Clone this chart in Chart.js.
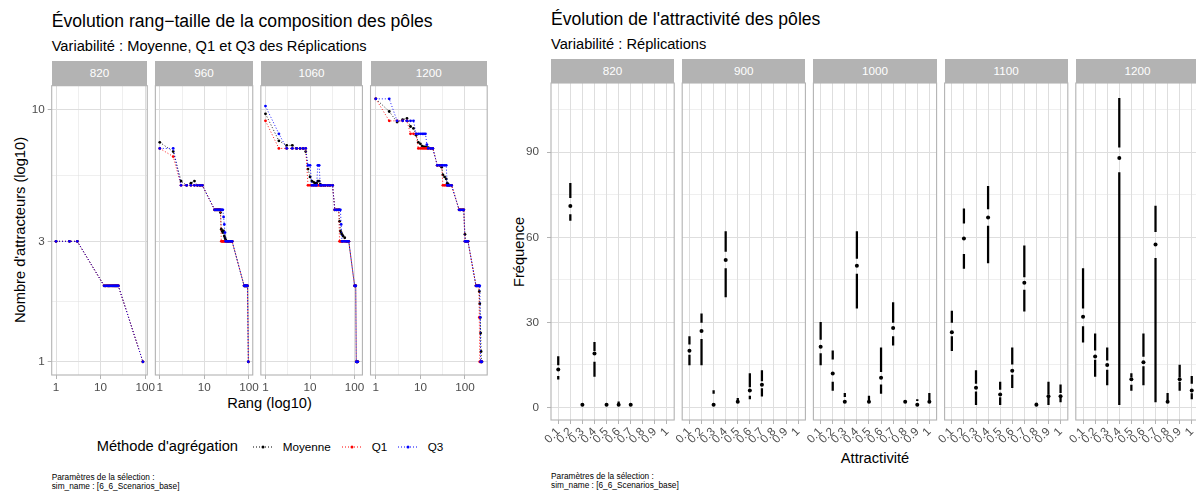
<!DOCTYPE html>
<html lang="fr">
<head>
<meta charset="utf-8">
<title>Pôles : rang-taille et attractivité</title>
<script src="https://cdn.jsdelivr.net/npm/chart.js@4.4.1/dist/chart.umd.min.js"></script>
<style>
  html, body { margin: 0; padding: 0; }
  body { width: 1196px; height: 493px; position: relative; overflow: hidden; background: #fff;
         font-family: "Liberation Sans", Arial, sans-serif; color: #000; }
  .txt { position: absolute; white-space: nowrap; line-height: 1; }
  .ctr { position: absolute; white-space: nowrap; line-height: 1; transform: translate(-50%, -50%); }
  .rot { position: absolute; white-space: nowrap; line-height: 1; transform: translate(-50%, -50%) rotate(-90deg); }
  .strip { position: absolute; background: #B3B3B3; color: #fff; font-size: 11.7px; text-align: center; }
  .cap { position: absolute; white-space: nowrap; font-size: 8.3px; line-height: 9px; }
  canvas { position: absolute; }
</style>
</head>
<body>

<!-- Titres -->
<div class="txt" style="left:51.7px;top:13.4px;font-size:17.6px">Évolution rang−taille de la composition des pôles</div>
<div class="txt" style="left:51.7px;top:38.6px;font-size:14.67px">Variabilité : Moyenne, Q1 et Q3 des Réplications</div>
<div class="txt" style="left:551px;top:11.4px;font-size:17.6px">Évolution de l'attractivité des pôles</div>
<div class="txt" style="left:551px;top:36.6px;font-size:14.67px">Variabilité : Réplications</div>

<!-- Titres d'axes -->
<div class="rot" style="left:19.5px;top:230.4px;font-size:14.67px">Nombre d'attracteurs (log10)</div>
<div class="ctr" style="left:269.5px;top:403px;font-size:14.67px">Rang (log10)</div>
<div class="rot" style="left:519px;top:251.5px;font-size:14.67px">Fréquence</div>
<div class="ctr" style="left:875px;top:458.3px;font-size:14.67px">Attractivité</div>

<!-- Légende -->
<div class="txt" style="left:96.7px;top:438.7px;font-size:14.67px">Méthode d'agrégation</div>
<svg style="position:absolute;left:253px;top:441.7px" width="20" height="10"><line x1="0" y1="5" x2="20" y2="5" stroke="#000" stroke-width="1" stroke-dasharray="1,2"/><circle cx="10" cy="5" r="1.5" fill="#000"/></svg>
<div class="txt" style="left:282.7px;top:440.9px;font-size:11.7px">Moyenne</div>
<svg style="position:absolute;left:342px;top:441.7px" width="20" height="10"><line x1="0" y1="5" x2="20" y2="5" stroke="#FF0000" stroke-width="1" stroke-dasharray="1,2"/><circle cx="10" cy="5" r="1.5" fill="#FF0000"/></svg>
<div class="txt" style="left:371.7px;top:440.9px;font-size:11.7px">Q1</div>
<svg style="position:absolute;left:398px;top:441.7px" width="20" height="10"><line x1="0" y1="5" x2="20" y2="5" stroke="#0000FF" stroke-width="1" stroke-dasharray="1,2"/><circle cx="10" cy="5" r="1.5" fill="#0000FF"/></svg>
<div class="txt" style="left:427.7px;top:440.9px;font-size:11.7px">Q3</div>

<!-- Légendes de bas de figure -->
<div class="cap" style="left:51.7px;top:472.5px">Paramètres de la sélection :<br>sim_name : [6_6_Scenarios_base]</div>
<div class="cap" style="left:551px;top:472px">Paramètres de la sélection :<br>sim_name : [6_6_Scenarios_base]</div>

<script>
// ==========================================
// DONNÉES - RANG-TAILLE (moyenne, Q1, Q3 des réplications)
// ==========================================
var rang820 = [1, 2, 3, 12, 13, 14, 15, 16, 17, 18, 19, 20, 21, 22, 23, 24, 25, 89];
var moy820  = [3, 3, 3, 2, 2, 2, 2, 2, 2, 2, 2, 2, 2, 2, 2, 2, 2, 1];
var q1_820  = [3, 3, 3, 2, 2, 2, 2, 2, 2, 2, 2, 2, 2, 2, 2, 2, 2, 1];
var q3_820  = [3, 3, 3, 2, 2, 2, 2, 2, 2, 2, 2, 2, 2, 2, 2, 2, 2, 1];

var rang960 = [1, 2, 3, 4, 5, 6, 7, 8, 9, 17, 18, 19, 20, 21, 22, 23, 24, 25, 26, 27, 28, 29, 30, 32, 34, 36, 39, 42, 78, 80, 82, 84, 86, 88, 90, 93, 97];
var moy960  = [7.4, 6.8, 5.2, 5.0, 5.1, 5.2, 5, 5, 5, 4, 4, 4, 4, 4, 4, 3.9, 3.35, 3.3, 3.25, 3.3, 3.15, 3.1, 3.05, 3, 3, 3, 3, 3, 2, 2, 2, 2, 2, 2, 2, 2, 1];
var q1_960  = [7, 6.5, 5, 5, 5, 5, 5, 5, 5, 4, 4, 4, 4, 4, 4, 4, 3, 3, 3, 3, 3, 3, 3, 3, 3, 3, 3, 3, 2, 2, 2, 2, 2, 2, 2, 2, 1];
var q3_960  = [7, 7, 5, 5, 5, 5, 5, 5, 5, 4, 4, 4, 4, 4, 4, 4, 4, 4, 4, 3.75, 3.5, 3.25, 3, 3, 3, 3, 3, 3, 2, 2, 2, 2, 2, 2, 2, 2, 1];

var rang1060 = [1, 2, 3, 4, 5, 6, 7, 8, 9, 10, 11, 12, 13, 14, 15, 16, 17, 18, 20, 22, 25, 28, 32, 36, 40, 44, 46, 48, 50, 52, 55, 60, 65, 70, 74, 100, 103, 106, 109, 112, 115, 118];
var moy1060  = [9.6, 7.5, 7.2, 7.2, 7, 7, 7, 6.8, 5.8, 5.4, 5.2, 5.15, 5.1, 5.1, 5.2, 5.2, 5.05, 5, 5, 5, 5, 5, 5, 4, 4, 4, 3.6, 3.3, 3.25, 3.2, 3.15, 3.1, 3, 3, 3, 2, 2, 2, 1, 1, 1, 1];
var q1_1060  = [9, 7, 7, 7, 7, 7, 7, 7, 5, 5, 5, 5, 5, 5, 5, 5, 5, 5, 5, 5, 5, 5, 5, 4, 4, 4, 3, 3, 3, 3, 3, 3, 3, 3, 3, 2, 2, 2, 1, 1, 1, 1];
var q3_1060  = [10.3, 8, 7, 7, 7, 7, 7, 7, 6, 6, 5, 5, 5, 5, 6, 6, 5, 5, 5, 5, 5, 5, 5, 4, 4, 4, 4, 4, 3.5, 3, 3, 3, 3, 3, 3, 2, 2, 2, 1, 1, 1, 1];

var rang1200 = [1, 2, 3, 4, 5, 6, 7, 8, 9, 10, 11, 12, 13, 14, 15, 17, 19, 24, 27, 30, 32, 35, 38, 40, 42, 45, 50, 74, 80, 87, 94, 100, 105, 110, 117, 177, 185, 195, 205, 210, 215, 220, 225, 230, 235, 240];
var moy1200  = [11, 9.8, 8.9, 9.1, 9.2, 8.55, 8.4, 7.9, 7.4, 7.3, 7.15, 7.1, 7.1, 7.05, 7.05, 7, 7, 6, 6, 5.9, 5.5, 5.4, 5.3, 5.1, 5.05, 5, 5, 4, 4, 4, 4, 3.2, 3, 3, 3, 2, 2, 2, 2, 1.9, 1.7, 1.5, 1.3, 1.1, 1, 1];
var q1_1200  = [11, 9, 9, 9, 9, 8, 8, 8, 7, 7, 7, 7, 7, 7, 7, 7, 7, 6, 6, 6, 5, 5, 5, 5, 5, 5, 5, 4, 4, 4, 4, 3, 3, 3, 3, 2, 2, 2, 2, 1.5, 1, 1, 1, 1, 1, 1];
var q3_1200  = [11, 11, 9, 9, 9, 9, 9, 8, 8, 8, 8, 8, 8, 7.25, 7, 7, 7, 6, 6, 6, 6, 6, 6, 5, 5, 5, 5, 4, 4, 4, 4, 3, 3, 3, 3, 2, 2, 2, 2, 2, 2, 1.5, 1, 1, 1, 1];

var rangTicks = [1, 10, 100];
var tailleTicks = [1, 3, 10];

// ==========================================
// DONNÉES - ATTRACTIVITÉ : [min, Q1, médiane, Q3, max], null = classe absente
// ==========================================
var attractivite = ['0.1', '0.2', '0.3', '0.4', '0.5', '0.6', '0.7', '0.8', '0.9', '1'];

var freq820 = [[10, 11, 13.4, 15, 18], [66, 68, 71, 74, 79], [1, 1, 1, 1, 1], [11, 16, 19, 20, 23],
               [1, 1, 1, 1, 1], [1, 1, 1, 1.5, 2], [1, 1, 1, 1, 1], null, null, null];
var freq900 = [[15, 18.5, 20, 22.3, 25], [15, 24, 27, 30, 33], [1, 1, 1, 5, 6], [39, 49, 52, 55, 62],
               [2, 2, 2, 2.5, 3.2], [3, 4, 6, 7.3, 12], [4, 6.7, 8, 9.4, 13], null, null, null];
var freq1000 = [[15, 19, 21.4, 24, 30], [6, 9, 12, 17, 20], [2, 2, 2, 3.8, 5], [35, 47, 50, 52.6, 62],
                [2, 2, 2, 2.8, 4], [5, 8, 10.5, 12.6, 21], [22, 25, 28, 30, 37], [2, 2, 2, 2, 2],
                [1, 1, 1, 2.4, 2.8], [2, 2, 2, 2.8, 5]];
var freq1100 = [[20, 25, 26.5, 30, 34], [49, 54, 59.6, 65, 70], [1, 5.5, 7, 8.5, 13], [51, 64, 67, 70, 78],
                [1, 3.5, 4.6, 6.4, 9], [7, 11.4, 13, 15.3, 21], [34, 41.4, 44, 46, 57], [1, 1, 1, 1.3, 1.6],
                [1, 3.2, 4, 4.7, 9], [2, 3.2, 4, 5.2, 8]];
var freq1200 = [[23, 28.5, 32, 35, 49], [11, 16.7, 18, 20.2, 26], [8, 13.2, 15, 16.7, 21], [1, 82.8, 88, 91.8, 109],
                [6, 7.9, 10, 10.8, 12], [8, 14.4, 16, 18, 26], [2, 52.6, 57.5, 62, 71], [2, 2, 2, 2.6, 5],
                [6, 9, 10, 10.8, 15], [3, 4.9, 6, 8.5, 11]];

var freqTicks = [0, 30, 60, 90];

(function() {
    'use strict';

    Chart.defaults.font.family = '"Liberation Sans", Arial, sans-serif';
    Chart.defaults.color = '#4D4D4D';

    var GRID = '#DEDEDE';
    var FRAME = '#B3B3B3';
    var LABEL = '#4D4D4D';

    // ==========================================
    // MISE EN PAGE DES PANNEAUX
    // ==========================================
    var RT = { left: 51.7, right: 487.2, gap: 8.1, top: 85.7, height: 289.3, stripTop: 61 };
    var AT = { left: 551, width: 123.2, gap: 8.0, top: 83, height: 337, stripTop: 59.3 };

    var facettesRang = [
        { nom: '820', rang: rang820, moy: moy820, q1: q1_820, q3: q3_820 },
        { nom: '960', rang: rang960, moy: moy960, q1: q1_960, q3: q3_960 },
        { nom: '1060', rang: rang1060, moy: moy1060, q1: q1_1060, q3: q3_1060 },
        { nom: '1200', rang: rang1200, moy: moy1200, q1: q1_1200, q3: q3_1200 }
    ];
    var facettesAttr = [
        { nom: '820', stats: freq820 },
        { nom: '900', stats: freq900 },
        { nom: '1000', stats: freq1000 },
        { nom: '1100', stats: freq1100 },
        { nom: '1200', stats: freq1200 }
    ];

    var panelFrame = {
        id: 'panelFrame',
        afterDatasetsDraw: function(chart) {
            var a = chart.chartArea, c = chart.ctx;
            c.save();
            c.strokeStyle = FRAME;
            c.lineWidth = 1.1;
            c.strokeRect(a.left, a.top, a.right - a.left, a.bottom - a.top);
            c.restore();
        }
    };

    function addCanvas(left, top, w, h) {
        var c = document.createElement('canvas');
        c.width = w; c.height = h;
        c.style.left = left + 'px'; c.style.top = top + 'px';
        c.style.width = w + 'px'; c.style.height = h + 'px';
        document.body.appendChild(c);
        return c;
    }

    function addStrip(text, left, top, w, h) {
        var d = document.createElement('div');
        d.className = 'strip';
        d.style.left = left + 'px'; d.style.top = top + 'px';
        d.style.width = w + 'px'; d.style.height = h + 'px';
        d.style.lineHeight = h + 'px';
        d.textContent = text;
        document.body.appendChild(d);
    }

    function buildTicks(lo, hi, majors, minors) {
        var t = [];
        majors.forEach(function(v) { if (v >= lo && v <= hi) t.push({ value: v, isMinor: false }); });
        minors.forEach(function(v) { if (v >= lo && v <= hi) t.push({ value: v, isMinor: true }); });
        t.sort(function(a, b) { return a.value - b.value; });
        return t;
    }

    // mineures ggplot : milieu (en échelle transformée) entre deux majeures
    function logMinors(majors) {
        var m = [];
        for (var i = 0; i < majors.length; i++) {
            var next = i < majors.length - 1 ? majors[i + 1] : majors[i] * 10;
            m.push(Math.sqrt(majors[i] * next));
        }
        return m;
    }

    function gridOpts(drawTicks) {
        return {
            color: GRID,
            lineWidth: function(ctx) { return ctx.tick && ctx.tick.isMinor ? 0.5 : 1; },
            drawTicks: drawTicks,
            tickLength: 4,
            tickWidth: 1,
            tickColor: function(ctx) { return ctx.tick && ctx.tick.isMinor ? 'rgba(0,0,0,0)' : FRAME; }
        };
    }

    // ==========================================
    // GRAPHIQUE RANG-TAILLE
    // ==========================================
    function initRangTaille() {
        var n = facettesRang.length;
        var spans = facettesRang.map(function(f) { return 1.1 * Math.log10(Math.max.apply(null, f.rang)); });
        var total = spans.reduce(function(a, b) { return a + b; }, 0);
        var pxPerUnit = (RT.right - RT.left - RT.gap * (n - 1)) / total;

        var yMaxData = 1;
        facettesRang.forEach(function(f) {
            yMaxData = Math.max(yMaxData, Math.max.apply(null, f.moy), Math.max.apply(null, f.q1), Math.max.apply(null, f.q3));
        });
        var Ly = Math.log10(yMaxData);
        var yLo = Math.pow(10, -0.05 * Ly), yHi = Math.pow(10, 1.05 * Ly);

        var panelL = RT.left;
        facettesRang.forEach(function(f, idx) {
            var panelW = spans[idx] * pxPerUnit;
            drawRangFacet(f, idx === 0, panelL, panelW, yLo, yHi);
            panelL += panelW + RT.gap;
        });
    }

    function series(f, values, color, order) {
        return {
            data: f.rang.map(function(r, k) { return { x: r, y: values[k] }; }),
            borderColor: color,
            backgroundColor: color,
            pointBackgroundColor: color,
            borderWidth: 0.9,
            borderDash: [1, 2],
            pointRadius: 1.4,
            pointBorderWidth: 0,
            tension: 0,
            order: order
        };
    }

    function drawRangFacet(f, first, panelL, panelW, yLo, yHi) {
        addStrip(f.nom, panelL, RT.stripTop, panelW, RT.top - RT.stripTop);

        var cLeft = first ? 20 : Math.floor(panelL - 6);
        var yw = panelL - cLeft;
        var cTop = Math.floor(RT.top - 4);
        var padT = RT.top - cTop;
        var cw = Math.ceil(yw + panelW + 14);
        var ch = Math.ceil(padT + RT.height + 30);
        var xh = ch - padT - RT.height;
        var padR = cw - yw - panelW;

        var L = Math.log10(Math.max.apply(null, f.rang));
        var xLo = Math.pow(10, -0.05 * L), xHi = Math.pow(10, 1.05 * L);

        var canvas = addCanvas(cLeft, cTop, cw, ch);
        new Chart(canvas, {
            type: 'line',
            data: {
                datasets: [
                    series(f, f.q3, '#0000FF', 1),
                    series(f, f.q1, '#FF0000', 2),
                    series(f, f.moy, '#000000', 3)
                ]
            },
            options: {
                responsive: false,
                animation: false,
                devicePixelRatio: 1,
                events: [],
                layout: { padding: { left: 0, top: padT, right: padR, bottom: 0 } },
                plugins: { legend: { display: false }, tooltip: { enabled: false } },
                scales: {
                    x: {
                        type: 'logarithmic', min: xLo, max: xHi, bounds: 'data', offset: false,
                        border: { display: false },
                        grid: gridOpts(true),
                        ticks: {
                            autoSkip: false, maxRotation: 0, minRotation: 0, padding: 2,
                            color: LABEL, font: { size: 11.7 },
                            callback: function(v, i, t) { return t[i].isMinor ? '' : String(v); }
                        },
                        afterBuildTicks: function(s) { s.ticks = buildTicks(xLo, xHi, rangTicks, logMinors(rangTicks)); },
                        afterFit: function(s) { s.height = xh; s.paddingLeft = 0; s.paddingRight = 0; }
                    },
                    y: {
                        type: 'logarithmic', min: yLo, max: yHi, bounds: 'data',
                        border: { display: false },
                        grid: gridOpts(first),
                        ticks: {
                            display: first, autoSkip: false, padding: 3,
                            color: LABEL, font: { size: 11.7 },
                            callback: function(v, i, t) { return t[i].isMinor ? '' : String(v); }
                        },
                        afterBuildTicks: function(s) { s.ticks = buildTicks(yLo, yHi, tailleTicks, logMinors(tailleTicks).slice(0, 2)); },
                        afterFit: function(s) { s.width = yw; s.paddingTop = 0; s.paddingBottom = 0; }
                    }
                }
            },
            plugins: [panelFrame]
        });
    }

    // ==========================================
    // GRAPHIQUE ATTRACTIVITÉ (boîtes de Tufte)
    // ==========================================
    function initAttractivite() {
        var lo = Infinity, hi = -Infinity;
        facettesAttr.forEach(function(f) {
            f.stats.forEach(function(s) {
                if (!s) return;
                lo = Math.min(lo, s[0]); hi = Math.max(hi, s[4]);
            });
        });
        var pad = (hi - lo) * 0.05;
        var yLo = lo - pad, yHi = hi + pad;

        facettesAttr.forEach(function(f, idx) {
            var panelL = AT.left + idx * (AT.width + AT.gap);
            drawAttrFacet(f, idx === 0, panelL, yLo, yHi);
        });
    }

    function drawAttrFacet(f, first, panelL, yLo, yHi) {
        addStrip(f.nom, panelL, AT.stripTop, AT.width, AT.top - AT.stripTop);

        var cLeft = first ? 500 : Math.floor(panelL - 8);
        var yw = panelL - cLeft;
        var cTop = Math.floor(AT.top - 4);
        var padT = AT.top - cTop;
        var cw = Math.ceil(yw + AT.width + 6);
        var ch = Math.ceil(padT + AT.height + 36);
        var xh = ch - padT - AT.height;
        var padR = cw - yw - AT.width;

        var bas = [], haut = [], med = [];
        f.stats.forEach(function(s, k) {
            if (!s) return;
            bas.push({ x: k + 1, y: [s[0], s[1]] });
            haut.push({ x: k + 1, y: [s[3], s[4]] });
            med.push({ x: k + 1, y: s[2] });
        });

        var minors = [];
        for (var v = 15; v < yHi; v += 30) minors.push(v);
        var xMajors = attractivite.map(function(a, k) { return k + 1; });

        var canvas = addCanvas(cLeft, cTop, cw, ch);
        new Chart(canvas, {
            type: 'bar',
            data: {
                datasets: [
                    { type: 'bar', data: bas, backgroundColor: '#000', borderWidth: 0, barThickness: 1.6, grouped: false, order: 2 },
                    { type: 'bar', data: haut, backgroundColor: '#000', borderWidth: 0, barThickness: 1.6, grouped: false, order: 2 },
                    { type: 'scatter', data: med, pointRadius: 2, pointBackgroundColor: '#000', pointBorderWidth: 0, order: 1 }
                ]
            },
            options: {
                responsive: false,
                animation: false,
                devicePixelRatio: 1,
                events: [],
                layout: { padding: { left: 0, top: padT, right: padR, bottom: 0 } },
                plugins: { legend: { display: false }, tooltip: { enabled: false } },
                scales: {
                    x: {
                        type: 'linear', min: 0.4, max: attractivite.length + 0.6, bounds: 'data', offset: false,
                        border: { display: false },
                        grid: Object.assign(gridOpts(true), { offset: false }),
                        ticks: {
                            autoSkip: false, minRotation: 45, maxRotation: 45, padding: 1,
                            color: LABEL, font: { size: 11.7 },
                            callback: function(v) { return attractivite[Math.round(v) - 1]; }
                        },
                        afterBuildTicks: function(s) { s.ticks = buildTicks(0.4, 10.6, xMajors, []); },
                        afterFit: function(s) { s.height = xh; s.paddingLeft = 0; s.paddingRight = 0; }
                    },
                    y: {
                        type: 'linear', min: yLo, max: yHi, bounds: 'data',
                        border: { display: false },
                        grid: gridOpts(first),
                        ticks: {
                            display: first, autoSkip: false, padding: 8,
                            color: LABEL, font: { size: 11.7 },
                            callback: function(v, i, t) { return t[i].isMinor ? '' : String(v); }
                        },
                        afterBuildTicks: function(s) { s.ticks = buildTicks(yLo, yHi, freqTicks, minors); },
                        afterFit: function(s) { s.width = yw; s.paddingTop = 0; s.paddingBottom = 0; }
                    }
                }
            },
            plugins: [panelFrame]
        });
    }

    initRangTaille();
    initAttractivite();
})();
</script>
</body>
</html>
